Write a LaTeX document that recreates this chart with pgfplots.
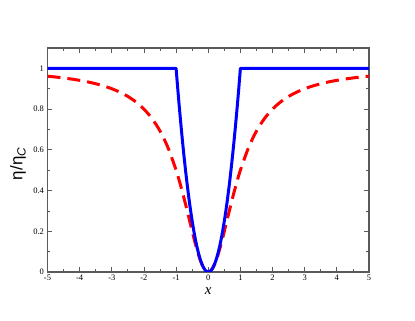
\documentclass[border=0pt]{standalone}
\usepackage{pgfplots}
\pgfplotsset{compat=1.18}
\usepackage{fontspec}
\setmainfont{Liberation Serif}
\newfontfamily\symfont{Liberation Sans}
\definecolor{axgray}{RGB}{90,90,90}
\definecolor{cblue}{RGB}{0,0,255}
\definecolor{cred}{RGB}{255,0,0}

\begin{document}
\begin{tikzpicture}
  \useasboundingbox (0bp,0bp) rectangle (415bp,321bp);
  \begin{axis}[
    at={(47.5bp,49bp)}, anchor=south west,
    scale only axis,
    width=321.5bp, height=224bp,
    xmin=-5, xmax=5,
    ymin=0, ymax=1.1,
    xtick={-5,-4,...,5},
    ytick={0,0.2,0.4,0.6,0.8,1},
    yticklabels={0,0.2,0.4,0.6,0.8,1},
    minor xtick={-4.5,-3.5,...,4.5},
    minor ytick={0.1,0.3,0.5,0.7,0.9},
    tick align=inside,
    major tick length=5bp,
    minor tick length=3bp,
    axis line style={axgray, line width=1.3bp},
    every tick/.style={axgray, line width=0.8bp},
    tick label style={font=\fontsize{8.5}{9}\selectfont},
    /pgf/number format/assume math mode=true,
    xticklabel style={yshift=1bp},
    xlabel={\fontsize{15}{15}\selectfont\itshape x},
    xlabel style={at={(axis description cs:0.5,0)}, anchor=north, yshift=-12bp},
    ylabel={\symfont\fontsize{17}{17}\selectfont η/η\raisebox{-0.35ex}{\fontsize{12}{12}\selectfont\itshape C}},
    ylabel style={at={(axis description cs:0,0.5)}, anchor=south, xshift=-4bp, yshift=18bp},
    clip=true,
  ]
    \addplot[cred, line width=3bp, dash pattern=on 13bp off 7bp, smooth] coordinates {
      (-5,0.9615) (-4.75,0.9576) (-4.5,0.9529) (-4.25,0.9475) (-4,0.9412)
      (-3.75,0.9336) (-3.5,0.9245) (-3.25,0.9135) (-3,0.9) (-2.75,0.8832)
      (-2.5,0.8621) (-2.25,0.8351) (-2,0.8) (-1.75,0.7538) (-1.5,0.6923)
      (-1.25,0.6098) (-1,0.5) (-0.9,0.4475) (-0.8,0.3902) (-0.7,0.3289)
      (-0.6,0.2647) (-0.5,0.2) (-0.4,0.1379) (-0.3,0.0826) (-0.2,0.0385)
      (-0.1,0.0099) (0,0) (0.1,0.0099) (0.2,0.0385) (0.3,0.0826) (0.4,0.1379)
      (0.5,0.2) (0.6,0.2647) (0.7,0.3289) (0.8,0.3902) (0.9,0.4475) (1,0.5)
      (1.25,0.6098) (1.5,0.6923) (1.75,0.7538) (2,0.8) (2.25,0.8351)
      (2.5,0.8621) (2.75,0.8832) (3,0.9) (3.25,0.9135) (3.5,0.9245)
      (3.75,0.9336) (4,0.9412) (4.25,0.9475) (4.5,0.9529) (4.75,0.9576) (5,0.9615)
    };
    \addplot[cblue, line width=3bp, line join=round] coordinates {
      (-5,1) (-1,1) (-0.95,0.9025) (-0.9,0.81) (-0.85,0.7225) (-0.8,0.64)
      (-0.75,0.5625) (-0.7,0.49) (-0.65,0.4225) (-0.6,0.36) (-0.55,0.3025)
      (-0.5,0.25) (-0.45,0.2025) (-0.4,0.16) (-0.35,0.1225) (-0.3,0.09)
      (-0.25,0.0625) (-0.2,0.04) (-0.15,0.0225) (-0.1,0.01) (-0.05,0.0025)
      (0,0) (0.05,0.0025) (0.1,0.01) (0.15,0.0225) (0.2,0.04) (0.25,0.0625)
      (0.3,0.09) (0.35,0.1225) (0.4,0.16) (0.45,0.2025) (0.5,0.25)
      (0.55,0.3025) (0.6,0.36) (0.65,0.4225) (0.7,0.49) (0.75,0.5625)
      (0.8,0.64) (0.85,0.7225) (0.9,0.81) (0.95,0.9025) (1,1) (5,1)
    };
  \end{axis}
\end{tikzpicture}
\end{document}
